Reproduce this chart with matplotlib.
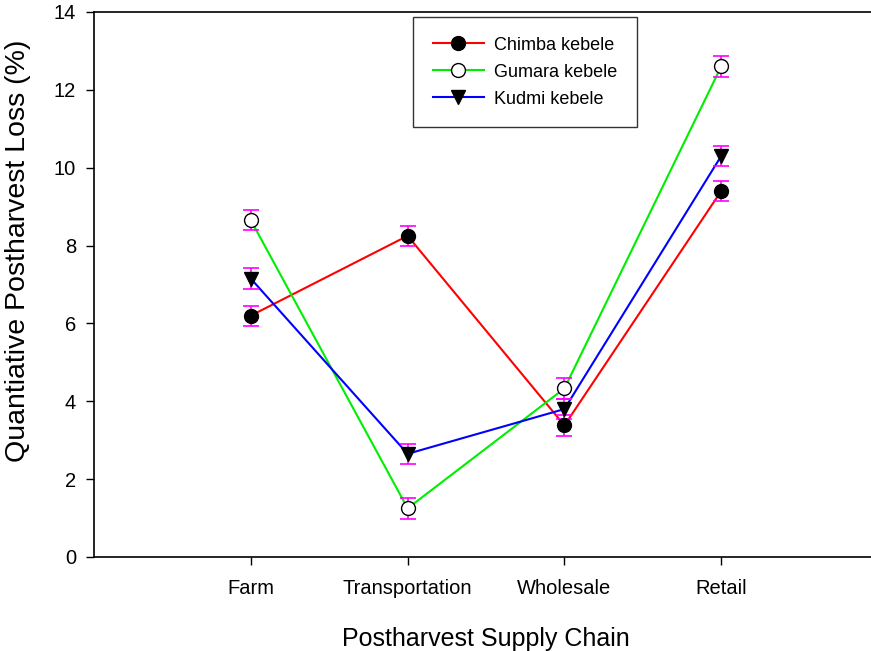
import matplotlib.pyplot as plt

plt.rcParams["font.family"] = ["Liberation Sans", "DejaVu Sans"]

stages = ["Farm", "Transportation", "Wholesale", "Retail"]
chimba = [6.2, 8.25, 3.38, 9.4]
gumara = [8.65, 1.25, 4.33, 12.6]
kudmi = [7.15, 2.65, 3.8, 10.3]
chimba_err = [0.26, 0.26, 0.27, 0.26]
gumara_err = [0.26, 0.27, 0.26, 0.26]
kudmi_err = [0.27, 0.26, 0.26, 0.26]

x = list(range(1, len(stages) + 1))

fig = plt.figure(figsize=(8.71, 6.51), dpi=100)
ax = fig.add_axes([0.108, 0.1444, 0.9, 0.8372])

series = [
    ("Chimba kebele", chimba, chimba_err, "red", "o", "black"),
    ("Gumara kebele", gumara, gumara_err, "#00ee00", "o", "white"),
    ("Kudmi kebele", kudmi, kudmi_err, "blue", "v", "black"),
]

for name, vals, err, col, mk, face in series:
    ax.plot(x, vals, color=col, linewidth=1.5, zorder=2)
    ax.errorbar(x, vals, yerr=err, fmt="none", ecolor="magenta",
                elinewidth=1.2, capsize=5.5, capthick=1.2, zorder=3)
    ax.plot(x, vals, linestyle="none", marker=mk, markersize=10,
            markerfacecolor=face, markeredgecolor="black",
            markeredgewidth=1, zorder=4)
    # legend handle
    ax.plot([], [], color=col, linewidth=1.5, marker=mk, markersize=10,
            markerfacecolor=face, markeredgecolor="black", label=name)

ax.set_xlim(0, 5)
ax.set_ylim(0, 14)
ax.set_xticks(x)
ax.set_xticklabels(stages)
ax.set_yticks(range(0, 15, 2))
ax.tick_params(direction="out", labelsize=14.5, length=6, width=1)
ax.tick_params(axis="x", pad=10)
ax.tick_params(axis="y", pad=7)
ax.spines["right"].set_visible(False)
for s in ["left", "top", "bottom"]:
    ax.spines[s].set_linewidth(1.2)

ax.set_xlabel("Postharvest Supply Chain", fontsize=18, labelpad=21)
ax.set_ylabel("Quantiative Postharvest Loss (%)", fontsize=20.5)
ax.yaxis.set_label_coords(-0.08, 0.561)

leg = ax.legend(loc="upper left", bbox_to_anchor=(0.407, 0.991),
                borderaxespad=0, fontsize=13, frameon=True, fancybox=False,
                edgecolor="black", borderpad=1.1, handlelength=2.8,
                handletextpad=0.6, labelspacing=0.55)
leg.get_frame().set_linewidth(1)

plt.savefig("out.png", dpi=100)
